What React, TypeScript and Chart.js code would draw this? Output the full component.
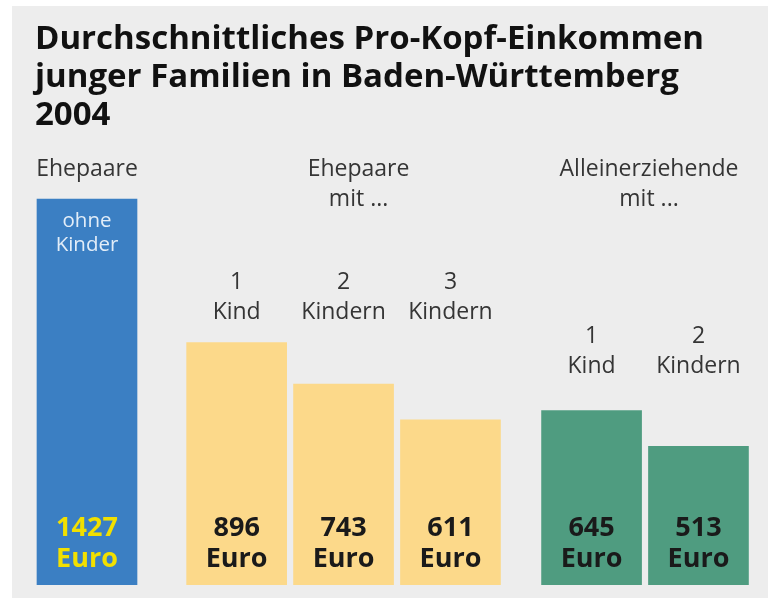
import React, { useEffect, useRef } from "react";
import { Chart, registerables } from "chart.js";

Chart.register(...registerables);

// ---- Data ----
const titleLines = [
  "Durchschnittliches Pro-Kopf-Einkommen",
  "junger Familien in Baden-Württemberg",
  "2004",
];
const groupLabels = [["Ehepaare"], ["Ehepaare", "mit ..."], ["Alleinerziehende", "mit ..."]];
const categoryLabels = [
  ["ohne", "Kinder"],
  ["1", "Kind"],
  ["2", "Kindern"],
  ["3", "Kindern"],
  ["1", "Kind"],
  ["2", "Kindern"],
];
const categoryGroup = [0, 1, 1, 1, 2, 2];
const values = [1427, 896, 743, 611, 645, 513];
const valueUnit = "Euro";

// ---- Styles / layout ----
const groupColors = ["#3b7fc3", "#fcd98a", "#4f9c80"];
const valueTextColors = ["#f2e000", "#1a1a1a", "#1a1a1a"];
const groupOffset = [0, 0.4, 0.72]; // extra spacing between groups (in bar pitches)
const groupLabelDx = [0, 15, 4];
const catLabelGap = [0, 24, 38];
const FONT = "'Open Sans', 'DejaVu Sans', sans-serif";

const positions = values.map((_, i) => i + groupOffset[categoryGroup[i]]);

const decoPlugin = {
  id: "deco",
  beforeDraw(chart: any) {
    const ctx = chart.ctx;
    ctx.save();
    ctx.fillStyle = "#ffffff";
    ctx.fillRect(0, 0, chart.width, chart.height);
    ctx.fillStyle = "#ededed";
    ctx.fillRect(12, 6, 756, 592);
    ctx.fillStyle = "#111111";
    ctx.font = `bold 33px ${FONT}`;
    ctx.textAlign = "left";
    ctx.textBaseline = "alphabetic";
    titleLines.forEach((t, k) => ctx.fillText(t, 35, 49 + k * 38));
    ctx.restore();
  },
  afterDatasetsDraw(chart: any) {
    const ctx = chart.ctx;
    const meta = chart.getDatasetMeta(0);
    const bars = meta.data;
    ctx.save();
    ctx.textAlign = "center";
    ctx.textBaseline = "alphabetic";

    // group labels
    groupLabels.forEach((lines, g) => {
      const idx = categoryGroup.map((cg, i) => (cg === g ? i : -1)).filter((i) => i >= 0);
      const cx = idx.reduce((s, i) => s + bars[i].x, 0) / idx.length + groupLabelDx[g];
      ctx.fillStyle = "#353535";
      ctx.font = `23px ${FONT}`;
      lines.forEach((t, k) => ctx.fillText(t, cx, 176 + k * 30));
    });

    // category labels
    categoryLabels.forEach((lines, i) => {
      const g = categoryGroup[i];
      const bar = bars[i];
      if (g === 0) {
        ctx.fillStyle = "#e2edf8";
        ctx.font = `20.5px ${FONT}`;
        lines.forEach((t, k) => ctx.fillText(t, bar.x, bar.y + 28 + k * 24));
      } else {
        const groupMax = Math.max(...values.filter((_, j) => categoryGroup[j] === g));
        const top = chart.scales.y.getPixelForValue(groupMax) - catLabelGap[g];
        ctx.fillStyle = "#353535";
        ctx.font = `23px ${FONT}`;
        const n = lines.length;
        lines.forEach((t, k) => ctx.fillText(t, bar.x, top - (n - 1 - k) * 30));
      }
    });

    // value labels
    values.forEach((v, i) => {
      const bar = bars[i];
      ctx.fillStyle = valueTextColors[categoryGroup[i]];
      ctx.font = `bold 27px ${FONT}`;
      ctx.fillText(String(v), bar.x, bar.base - 49);
      ctx.fillText(valueUnit, bar.x, bar.base - 18);
    });
    ctx.restore();
  },
};

export default function App() {
  const ref = useRef<HTMLCanvasElement | null>(null);
  useEffect(() => {
    if (!ref.current) return;
    const pitch = 106.9;
    const chart = new Chart(ref.current, {
      type: "bar",
      data: {
        datasets: [
          {
            data: values.map((v, i) => ({ x: positions[i], y: v })),
            backgroundColor: values.map((_, i) => groupColors[categoryGroup[i]]),
            borderWidth: 0,
            barThickness: 100,
          },
        ],
      },
      options: {
        animation: false,
        responsive: false,
        devicePixelRatio: 1,
        layout: { padding: { top: 44, bottom: 15, left: 0, right: 0 } },
        plugins: { legend: { display: false }, tooltip: { enabled: false }, title: { display: false } },
        scales: {
          x: { type: "linear", display: false, offset: false, min: -87 / pitch, max: 687 / pitch },
          y: { display: false, min: 0, max: 2000 },
        },
      },
      plugins: [decoPlugin],
    });
    return () => chart.destroy();
  }, []);
  return (
    <div style={{ position: "fixed", left: 0, top: 0, width: 774, height: 600 }}>
      <canvas ref={ref} width={774} height={600} style={{ display: "block" }} />
    </div>
  );
}
